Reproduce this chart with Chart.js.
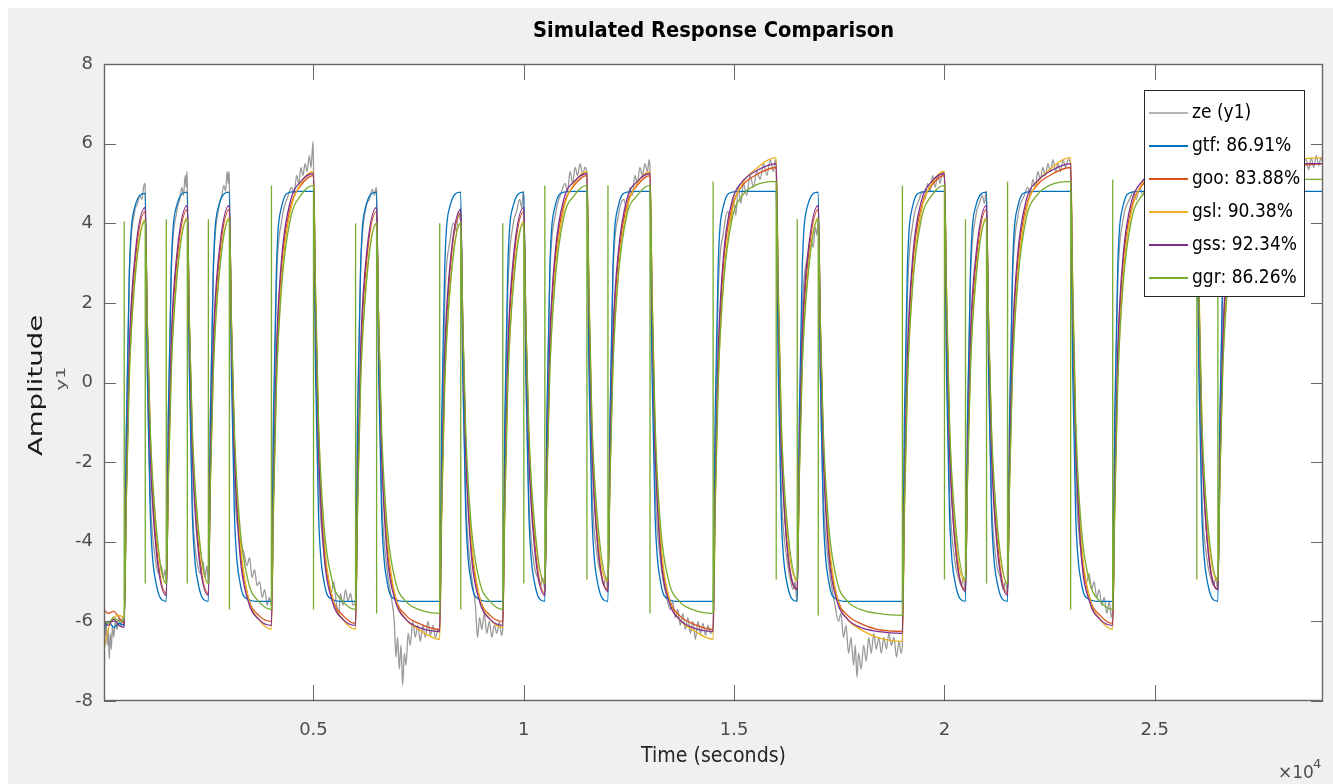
<!DOCTYPE html>
<html>
<head>
<meta charset="UTF-8" />
<title>Simulated Response Comparison</title>
<script src="https://cdn.jsdelivr.net/npm/chart.js"></script>
<style>
  body { margin: 0; background: #f0f0f0; }
  canvas { display: block; }
</style>
</head>
<body>
<canvas id="grafico" width="1333" height="784"></canvas>
<script>
  // sample times (s) shared by the five model curves, one line per input segment
  const t = [
    20, 120, 250, 380,
    500, 550, 620, 750,
    1000, 1050, 1120, 1250,
    1500, 1550, 1620, 1750,
    2000, 2050, 2120, 2250,
    2500, 2550, 2620, 2750,
    3000, 3050, 3120, 3250, 3450, 3700,
    4000, 4050, 4120, 4250, 4450, 4700,
    5000, 5050, 5120, 5250, 5450, 5700,
    6000, 6050, 6120, 6250,
    6500, 6550, 6620, 6750, 6950, 7200, 7500,
    8000, 8050, 8120, 8250,
    8500, 8550, 8620, 8750, 8950, 9200,
    9500, 9550, 9620, 9750,
    10000, 10050, 10120, 10250,
    10500, 10550, 10620, 10750, 10950, 11200,
    11500, 11550, 11620, 11750,
    12000, 12050, 12120, 12250, 12450, 12700,
    13000, 13050, 13120, 13250, 13450, 13700, 14000,
    14500, 14550, 14620, 14750, 14950, 15200, 15500,
    16000, 16050, 16120, 16250,
    16500, 16550, 16620, 16750,
    17000, 17050, 17120, 17250, 17450, 17700, 18000, 18400,
    19000, 19050, 19120, 19250, 19450, 19700,
    20000, 20050, 20120, 20250,
    20500, 20550, 20620, 20750,
    21000, 21050, 21120, 21250,
    21500, 21550, 21620, 21750, 21950, 22200, 22500,
    23000, 23050, 23120, 23250, 23450, 23700,
    24000, 24050, 24120, 24250, 24450, 24700, 25000, 25400,
    26000, 26050, 26120, 26250,
    26500, 26550, 26620, 26750, 26950, 27200, 27500, 27900, 28500, 29000
  ];

  const gtf = [
    -6.2, -6.0, -6.15, -6.05,
    -6.1, -1.2, 2.7, 4.4,
    4.75, 0.2, -3.3, -5.0,
    -5.5, -0.8, 2.9, 4.45,
    4.78, 0.2, -3.3, -5.0,
    -5.5, -0.8, 2.9, 4.45,
    4.78, 0.2, -3.3, -5.0, -5.45, -5.5,
    -5.5, -0.8, 2.9, 4.45, 4.78, 4.8,
    4.8, 0.2, -3.3, -5.0, -5.45, -5.5,
    -5.5, -0.8, 2.9, 4.45,
    4.78, 0.2, -3.3, -5.0, -5.45, -5.5, -5.5,
    -5.5, -0.8, 2.9, 4.45,
    4.78, 0.2, -3.3, -5.0, -5.45, -5.5,
    -5.5, -0.8, 2.9, 4.45,
    4.78, 0.2, -3.3, -5.0,
    -5.5, -0.8, 2.9, 4.45, 4.78, 4.8,
    4.8, 0.2, -3.3, -5.0,
    -5.5, -0.8, 2.9, 4.45, 4.78, 4.8,
    4.8, 0.2, -3.3, -5.0, -5.45, -5.5, -5.5,
    -5.5, -0.8, 2.9, 4.45, 4.78, 4.8, 4.8,
    4.8, 0.2, -3.3, -5.0,
    -5.5, -0.8, 2.9, 4.45,
    4.78, 0.2, -3.3, -5.0, -5.45, -5.5, -5.5, -5.5,
    -5.5, -0.8, 2.9, 4.45, 4.78, 4.8,
    4.8, 0.2, -3.3, -5.0,
    -5.5, -0.8, 2.9, 4.45,
    4.78, 0.2, -3.3, -5.0,
    -5.5, -0.8, 2.9, 4.45, 4.78, 4.8, 4.8,
    4.8, 0.2, -3.3, -5.0, -5.45, -5.5,
    -5.5, -0.8, 2.9, 4.45, 4.78, 4.8, 4.8, 4.8,
    4.8, 0.2, -3.3, -5.0,
    -5.5, -0.8, 2.9, 4.45, 4.78, 4.8, 4.8, 4.8, 4.8, 4.8
  ];

  const goo = [
    -5.7, -5.8, -5.75, -5.9,
    -6.05, -2.8, 0.5, 2.9,
    4.3, 1.5, -1.5, -3.9,
    -5.3, -2.3, 0.8, 3.0,
    4.35, 1.5, -1.5, -3.9,
    -5.3, -2.3, 0.8, 3.0,
    4.35, 1.5, -1.6, -4.1, -5.4, -5.85,
    -6.0, -2.8, 0.5, 3.0, 4.4, 4.95,
    5.2, 2.0, -1.4, -4.1, -5.4, -5.85,
    -6.05, -2.8, 0.5, 2.9,
    4.3, 1.5, -1.6, -4.1, -5.4, -5.85, -6.05,
    -6.2, -2.9, 0.4, 2.85,
    4.25, 1.5, -1.6, -4.1, -5.4, -5.85,
    -6.0, -2.8, 0.5, 2.9,
    4.3, 1.5, -1.5, -3.9,
    -5.3, -2.3, 0.8, 3.1, 4.45, 4.95,
    5.2, 2.0, -1.4, -4.0,
    -5.2, -2.2, 0.9, 3.1, 4.45, 4.95,
    5.2, 2.0, -1.4, -4.1, -5.4, -5.85, -6.05,
    -6.2, -2.9, 0.4, 3.0, 4.4, 4.95, 5.2,
    5.4, 2.1, -1.3, -4.0,
    -5.2, -2.2, 0.9, 3.0,
    4.35, 1.5, -1.6, -4.1, -5.4, -5.85, -6.05, -6.2,
    -6.25, -2.9, 0.4, 3.0, 4.4, 4.95,
    5.2, 2.0, -1.4, -4.0,
    -5.2, -2.2, 0.9, 3.0,
    4.35, 1.5, -1.5, -3.9,
    -5.3, -2.3, 0.8, 3.1, 4.45, 4.95, 5.2,
    5.4, 2.1, -1.3, -4.1, -5.4, -5.85,
    -6.05, -2.8, 0.5, 3.0, 4.4, 4.95, 5.2, 5.35,
    5.4, 2.1, -1.3, -4.0,
    -5.2, -2.2, 0.9, 3.1, 4.45, 4.95, 5.2, 5.35, 5.45, 5.5
  ];

  const gsl = [
    -6.7, -6.2, -5.9, -5.85,
    -5.9, -3.0, 0.1, 2.6,
    4.1, 1.5, -1.3, -3.6,
    -5.05, -2.4, 0.4, 2.7,
    4.15, 1.5, -1.3, -3.6,
    -5.05, -2.4, 0.4, 2.7,
    4.15, 1.5, -1.4, -3.9, -5.4, -5.95,
    -6.2, -3.2, 0.0, 2.7, 4.3, 5.0,
    5.3, 2.4, -1.0, -3.9, -5.4, -5.95,
    -6.2, -3.2, 0.0, 2.5,
    4.0, 1.4, -1.5, -3.9, -5.4, -5.95, -6.2,
    -6.45, -3.3, -0.1, 2.4,
    4.0, 1.4, -1.5, -3.9, -5.4, -5.95,
    -6.15, -3.2, 0.0, 2.5,
    4.05, 1.5, -1.3, -3.6,
    -5.05, -2.4, 0.4, 2.8, 4.35, 5.0,
    5.3, 2.4, -1.0, -3.7,
    -5.0, -2.3, 0.5, 2.8, 4.35, 5.0,
    5.3, 2.4, -1.0, -3.9, -5.4, -5.95, -6.2,
    -6.45, -3.3, -0.1, 2.6, 4.3, 5.0, 5.35,
    5.65, 2.6, -0.9, -3.6,
    -5.0, -2.3, 0.5, 2.7,
    4.15, 1.5, -1.4, -3.9, -5.4, -5.95, -6.2, -6.4,
    -6.5, -3.3, -0.1, 2.6, 4.3, 5.0,
    5.3, 2.4, -1.0, -3.7,
    -5.0, -2.3, 0.5, 2.7,
    4.15, 1.5, -1.3, -3.6,
    -5.05, -2.4, 0.4, 2.8, 4.35, 5.0, 5.35,
    5.65, 2.6, -0.9, -3.9, -5.4, -5.95,
    -6.2, -3.2, 0.0, 2.7, 4.3, 5.0, 5.35, 5.55,
    5.6, 2.6, -0.9, -3.6,
    -5.0, -2.3, 0.5, 2.8, 4.35, 5.0, 5.35, 5.55, 5.62, 5.65
  ];

  const gss = [
    -6.0, -6.1, -5.95, -6.1,
    -6.15, -2.6, 0.8, 3.1,
    4.4, 1.3, -1.8, -4.1,
    -5.35, -2.0, 1.1, 3.2,
    4.45, 1.3, -1.8, -4.1,
    -5.35, -2.0, 1.1, 3.2,
    4.45, 1.3, -1.8, -4.3, -5.5, -5.95,
    -6.1, -2.6, 0.8, 3.2, 4.55, 5.05,
    5.25, 1.8, -1.6, -4.3, -5.5, -5.95,
    -6.1, -2.6, 0.8, 3.1,
    4.4, 1.3, -1.8, -4.3, -5.5, -5.95, -6.15,
    -6.25, -2.7, 0.7, 3.0,
    4.35, 1.3, -1.8, -4.3, -5.5, -5.95,
    -6.1, -2.6, 0.8, 3.1,
    4.4, 1.3, -1.8, -4.1,
    -5.35, -2.0, 1.1, 3.3, 4.6, 5.05,
    5.25, 1.8, -1.6, -4.0,
    -5.25, -1.9, 1.2, 3.3, 4.6, 5.05,
    5.25, 1.8, -1.6, -4.3, -5.5, -5.95, -6.15,
    -6.25, -2.7, 0.7, 3.2, 4.55, 5.05, 5.3,
    5.5, 2.0, -1.5, -4.0,
    -5.2, -1.9, 1.2, 3.2,
    4.45, 1.3, -1.8, -4.3, -5.5, -5.95, -6.15, -6.25,
    -6.3, -2.7, 0.7, 3.2, 4.55, 5.05,
    5.25, 1.8, -1.6, -4.0,
    -5.25, -1.9, 1.2, 3.2,
    4.45, 1.3, -1.8, -4.1,
    -5.35, -2.0, 1.1, 3.3, 4.6, 5.05, 5.3,
    5.5, 2.0, -1.5, -4.3, -5.5, -5.95,
    -6.1, -2.6, 0.8, 3.2, 4.55, 5.05, 5.3, 5.45,
    5.5, 2.0, -1.5, -4.0,
    -5.2, -1.9, 1.2, 3.3, 4.6, 5.05, 5.3, 5.45, 5.5, 5.5
  ];

  const ggr = [
    -6.0, -6.05, -5.9, -6.0,
    -5.95, -3.0, 0.1, 2.5,
    4.05, 1.5, -1.2, -3.5,
    -5.05, -2.5, 0.3, 2.6,
    4.1, 1.5, -1.2, -3.5,
    -5.05, -2.5, 0.3, 2.6,
    4.1, 1.5, -1.2, -3.6, -5.0, -5.5,
    -5.7, -3.0, 0.0, 2.5, 4.1, 4.7,
    4.95, 2.2, -1.0, -3.6, -5.0, -5.5,
    -5.7, -3.0, 0.0, 2.4,
    4.0, 1.5, -1.2, -3.6, -5.0, -5.5, -5.7,
    -5.8, -3.0, 0.0, 2.4,
    4.0, 1.5, -1.2, -3.6, -5.0, -5.5,
    -5.7, -3.0, 0.0, 2.4,
    4.0, 1.5, -1.2, -3.5,
    -5.05, -2.5, 0.3, 2.6, 4.15, 4.7,
    4.95, 2.2, -1.0, -3.4,
    -4.95, -2.4, 0.4, 2.7, 4.2, 4.7,
    4.95, 2.2, -1.0, -3.6, -5.0, -5.5, -5.7,
    -5.8, -3.0, 0.0, 2.5, 4.1, 4.7, 4.95,
    5.05, 2.2, -1.0, -3.4,
    -4.95, -2.4, 0.4, 2.6,
    4.1, 1.5, -1.2, -3.6, -5.0, -5.5, -5.7, -5.8,
    -5.85, -3.0, 0.0, 2.5, 4.1, 4.7,
    4.95, 2.2, -1.0, -3.4,
    -4.95, -2.4, 0.4, 2.6,
    4.1, 1.5, -1.2, -3.5,
    -5.05, -2.5, 0.3, 2.6, 4.15, 4.7, 4.95,
    5.05, 2.2, -1.0, -3.6, -5.0, -5.5,
    -5.7, -3.0, 0.0, 2.5, 4.1, 4.7, 4.95, 5.05,
    5.1, 2.2, -1.0, -3.4,
    -4.95, -2.4, 0.4, 2.6, 4.15, 4.7, 4.95, 5.05, 5.1, 5.1
  ];

  // input switching instants and the one-sample jump of ggr at each of them
  const switchT = [500, 1000, 1500, 2000, 2500, 3000, 4000, 5000, 6000, 6500, 8000, 8500,
    9500, 10000, 10500, 11500, 12000, 13000, 14500, 16000, 16500, 17000, 19000, 20000,
    20500, 21000, 21500, 23000, 24000, 26000, 26500];
  const ggrSpike = [4.05, -5.05, 4.1, -5.05, 4.1, -5.7, 4.95, -5.7, 4.0, -5.8, 4.0, -5.7,
    4.0, -5.05, 4.95, -4.95, 4.95, -5.8, 5.05, -4.95, 4.1, -5.85, 4.95, -4.95,
    4.1, -5.05, 5.05, -5.7, 5.1, -4.95, 5.1];

  // measured output ze (y1): [time, value]
  const zeSamples = [
    [20,-5.9],[45,-6.4],[70,-6.0],[95,-6.6],[120,-6.2],[145,-6.95],[170,-6.3],[195,-6.7],[220,-6.1],[250,-6.4],[290,-6.0],[330,-6.2],[370,-5.9],[420,-6.1],[470,-5.9],
    [500,-6.1],[550,-1.5],[620,2.6],[750,4.3],[820,4.5],[870,4.7],[920,4.6],[960,4.9],[990,5.0],
    [1000,4.9],[1050,0.5],[1120,-2.8],[1250,-4.5],[1320,-4.8],[1380,-4.6],[1430,-4.9],[1470,-4.7],
    [1500,-5.0],[1550,-0.8],[1620,2.8],[1750,4.3],[1820,4.6],[1870,4.9],[1910,4.7],[1950,5.2],[1975,4.9],[1992,5.3],
    [2000,5.0],[2050,0.5],[2120,-3.0],[2250,-4.6],[2320,-4.8],[2380,-4.5],[2420,-4.9],[2470,-4.6],
    [2500,-5.0],[2550,-0.8],[2620,2.8],[2750,4.4],[2820,4.7],[2870,4.95],[2910,4.8],[2950,5.3],[2975,5.0],[2992,5.3],
    [3000,5.1],[3050,0.8],[3120,-2.5],[3250,-3.9],[3350,-4.3],[3420,-4.6],[3480,-4.4],[3540,-4.9],[3600,-4.7],[3660,-5.1],[3720,-5.0],[3780,-5.4],[3840,-5.2],[3900,-5.6],[3950,-5.4],
    [4000,-5.6],[4050,-1.2],[4120,2.5],[4250,4.1],[4400,4.7],[4480,4.9],[4540,4.75],[4600,5.2],[4650,5.0],[4700,5.4],[4750,5.2],[4800,5.5],[4850,5.3],[4900,5.7],[4940,5.4],[4970,5.8],[4990,6.05],
    [5000,5.5],[5050,1.0],[5120,-2.3],[5250,-4.3],[5350,-4.9],[5420,-5.3],[5480,-5.0],[5540,-5.5],[5600,-5.85],[5640,-5.3],[5700,-5.6],[5760,-5.2],[5820,-5.5],[5880,-5.3],[5940,-5.6],
    [6000,-5.5],[6050,-0.8],[6120,2.8],[6250,4.4],[6330,4.6],[6400,4.85],[6450,4.7],[6490,4.9],
    [6500,4.8],[6550,0.5],[6620,-2.8],[6750,-4.7],[6850,-5.4],[6920,-6.0],[6960,-6.9],[7000,-6.4],[7040,-7.2],[7080,-6.6],[7120,-7.6],[7160,-6.8],[7200,-7.1],[7250,-6.3],[7300,-6.6],[7360,-6.0],[7420,-6.4],[7480,-6.1],[7540,-6.5],[7600,-6.1],[7660,-6.4],[7720,-6.0],[7780,-6.35],[7840,-6.1],[7900,-6.4],[7960,-6.2],
    [8000,-6.3],[8050,-1.8],[8120,2.0],[8250,3.6],[8330,4.0],[8400,3.8],[8450,4.3],[8490,4.1],
    [8500,4.4],[8550,0.3],[8620,-2.9],[8750,-4.8],[8850,-5.6],[8900,-6.4],[8950,-5.9],[9000,-6.2],[9060,-5.8],[9120,-6.3],[9180,-6.0],[9240,-6.4],[9300,-6.1],[9360,-6.3],[9420,-6.0],[9470,-6.35],
    [9500,-6.2],[9550,-1.5],[9620,2.3],[9750,4.0],[9830,4.3],[9900,4.6],[9950,4.4],[9990,4.8],
    [10000,4.6],[10050,0.3],[10120,-2.9],[10250,-4.6],[10330,-4.9],[10400,-5.1],[10450,-4.9],
    [10500,-5.2],[10550,-1.0],[10620,2.7],[10750,4.2],[10900,4.8],[10980,5.0],[11040,4.8],[11100,5.3],[11160,5.0],[11220,5.4],[11280,5.2],[11340,5.5],[11400,5.2],[11450,5.4],
    [11500,5.3],[11550,1.0],[11620,-2.6],[11750,-4.4],[11830,-4.8],[11900,-5.1],[11950,-4.9],
    [12000,-5.2],[12050,-1.0],[12120,2.7],[12250,4.2],[12380,4.6],[12450,4.3],[12520,4.9],[12580,4.7],[12640,5.2],[12700,5.0],[12760,5.4],[12820,5.2],[12880,5.5],[12940,5.3],[12980,5.6],
    [13000,5.4],[13050,1.0],[13120,-2.5],[13250,-4.5],[13400,-5.4],[13480,-5.7],[13540,-5.5],[13600,-5.9],[13660,-5.7],[13720,-6.1],[13780,-5.8],[13840,-6.2],[13900,-5.9],[13960,-6.3],[14020,-6.0],[14080,-6.45],[14140,-6.0],[14200,-6.3],[14260,-6.05],[14320,-6.35],[14380,-6.1],[14440,-6.3],
    [14500,-6.2],[14550,-1.8],[14620,2.2],[14750,3.8],[14850,4.3],[14920,4.0],[14980,4.6],[15040,4.2],[15100,4.9],[15160,4.5],[15220,5.0],[15300,4.7],[15380,5.2],[15460,4.9],[15540,5.3],[15620,5.1],[15700,5.5],[15780,5.2],[15860,5.6],[15930,5.3],[15980,5.6],
    [16000,5.4],[16050,1.0],[16120,-2.6],[16250,-4.4],[16330,-4.9],[16400,-5.2],[16450,-5.0],[16490,-5.5],
    [16500,-5.3],[16550,-1.5],[16620,1.8],[16750,3.2],[16820,3.6],[16880,3.4],[16930,3.9],[16970,3.7],
    [17000,4.1],[17050,0.2],[17120,-2.8],[17250,-4.6],[17400,-5.6],[17480,-6.0],[17540,-5.8],[17600,-6.4],[17660,-6.1],[17720,-6.8],[17780,-6.4],[17840,-7.1],[17880,-6.6],[17920,-7.4],[17960,-6.8],[18020,-7.2],[18080,-6.6],[18140,-7.0],[18200,-6.4],[18260,-6.8],[18320,-6.3],[18380,-6.7],[18440,-6.4],[18500,-6.8],[18560,-6.4],[18620,-6.7],[18680,-6.3],[18740,-6.6],[18800,-6.4],[18860,-6.9],[18920,-6.5],[18970,-6.8],
    [19000,-6.6],[19050,-1.8],[19120,2.2],[19250,4.0],[19400,4.6],[19480,4.8],[19540,4.6],[19600,5.0],[19660,4.8],[19720,5.2],[19780,4.9],[19840,5.2],[19900,5.0],[19950,5.3],
    [20000,5.1],[20050,0.8],[20120,-2.7],[20250,-4.5],[20330,-4.9],[20400,-5.1],[20450,-4.9],
    [20500,-5.3],[20550,-1.0],[20620,2.6],[20750,4.2],[20830,4.5],[20900,4.7],[20950,4.5],[20990,4.8],
    [21000,4.7],[21050,0.4],[21120,-2.9],[21250,-4.6],[21330,-4.9],[21400,-5.2],[21450,-5.0],
    [21500,-5.3],[21550,-1.0],[21620,2.6],[21750,4.2],[21900,4.7],[21980,4.9],[22040,4.7],[22100,5.1],[22160,4.9],[22220,5.3],[22280,5.1],[22340,5.4],[22400,5.2],[22460,5.5],[22520,5.3],[22580,5.6],[22640,5.3],[22700,5.5],[22760,5.3],[22820,5.6],[22880,5.4],[22940,5.6],
    [23000,5.5],[23050,1.2],[23120,-2.3],[23250,-4.3],[23380,-5.0],[23440,-4.8],[23500,-5.2],[23560,-5.0],[23620,-5.4],[23680,-5.2],[23740,-5.6],[23800,-5.4],[23860,-5.8],[23920,-5.5],[23970,-5.9],
    [24000,-5.7],[24050,-1.2],[24120,2.5],[24250,4.1],[24400,4.6],[24500,4.8],[24560,4.6],[24640,4.9],[24720,4.7],[24800,5.0],[25000,4.8],[25200,5.0],[25400,4.9],[25600,5.1],[25800,4.9],[25950,5.1],
    [26000,5.0],[26050,0.6],[26120,-2.8],[26250,-4.5],[26330,-4.9],[26400,-5.1],[26450,-4.9],
    [26500,-5.2],[26550,-1.0],[26620,2.6],[26750,4.2],[26950,4.8],[27200,5.1],[27400,5.3],[27600,5.2],[27800,5.4],[28000,5.3],[28200,5.5],[28400,5.4],[28600,5.6],[28660,5.35],[28720,5.65],[28780,5.4],[28840,5.7],[28900,5.45],[28950,5.65],[29000,5.5]
  ];

  const xTicks = [5000, 10000, 15000, 20000, 25000];
  const rotulos = ['ze (y1)', 'gtf: 86.91%', 'goo: 83.88%', 'gsl: 90.38%', 'gss: 92.34%', 'ggr: 86.26%'];
  const cores = ['#9a9a9a', '#0072BD', '#D95319', '#EDB120', '#7E2F8E', '#77AC30'];

  [gtf, goo, gsl, gss, ggr].forEach((s, i) => {
    if (s.length !== t.length) throw new Error('serie ' + i + ': ' + s.length + ' != ' + t.length);
  });
  if (ggrSpike.length !== switchT.length) throw new Error('ggrSpike length');

  const pontos = s => t.map((x, i) => ({ x: x, y: s[i] }));

  const ggrPts = [];
  t.forEach((x, i) => {
    const k = switchT.indexOf(x);
    if (k >= 0) {
      ggrPts.push({ x: x, y: ggr[i] }, { x: x + 1, y: ggrSpike[k] }, { x: x + 2, y: ggr[i] });
    } else {
      ggrPts.push({ x: x, y: ggr[i] });
    }
  });

  const FONTE = '"DejaVu Sans", "Liberation Sans", sans-serif';

  function texto(ctx, s, x, y, size, color, align, o = {}) {
    ctx.save();
    ctx.translate(x, y);
    if (o.rotate) ctx.rotate(o.rotate);
    ctx.scale(o.sx || 1, o.sy || 1);
    ctx.font = (o.bold ? 'bold ' : '') + size + 'px ' + FONTE;
    ctx.fillStyle = color;
    ctx.textAlign = align;
    ctx.textBaseline = o.baseline || 'middle';
    ctx.fillText(s, 0, 0);
    ctx.restore();
  }

  const moldura = {
    id: 'moldura',
    beforeDraw(chart) {
      const { ctx, chartArea: a, width, height } = chart;
      ctx.save();
      ctx.fillStyle = '#ffffff';
      ctx.fillRect(0, 0, width, height);
      ctx.fillStyle = '#f0f0f0';
      ctx.fillRect(8, 8, width - 8, height - 8);
      ctx.fillStyle = '#ffffff';
      ctx.fillRect(a.left, a.top, a.width, a.height);
      ctx.restore();
    },
    afterDatasetsDraw(chart) {
      const { ctx, chartArea: a, scales: { x, y } } = chart;
      ctx.save();
      ctx.strokeStyle = '#666666';
      ctx.lineWidth = 1;
      ctx.beginPath();
      x.ticks.forEach(tk => {
        const px = Math.round(x.getPixelForValue(tk.value)) + 0.5;
        ctx.moveTo(px, a.bottom); ctx.lineTo(px, a.bottom - 16);
        ctx.moveTo(px, a.top); ctx.lineTo(px, a.top + 16);
      });
      y.ticks.forEach(tk => {
        const py = Math.round(y.getPixelForValue(tk.value)) + 0.5;
        ctx.moveTo(a.left, py); ctx.lineTo(a.left + 12, py);
        ctx.moveTo(a.right, py); ctx.lineTo(a.right - 12, py);
      });
      ctx.stroke();
      ctx.lineWidth = 1.4;
      ctx.strokeRect(a.left + 0.5, a.top + 0.5, a.width - 1, a.height - 1);
      ctx.restore();

      x.ticks.forEach(tk => {
        texto(ctx, String(tk.value / 10000), x.getPixelForValue(tk.value), a.bottom + 29, 18, '#4d4d4d', 'center');
      });
      y.ticks.forEach(tk => {
        texto(ctx, String(tk.value), a.left - 11, y.getPixelForValue(tk.value), 18, '#4d4d4d', 'right');
      });

      const cx = (a.left + a.right) / 2;
      const cy = (a.top + a.bottom) / 2;
      texto(ctx, 'Simulated Response Comparison', cx, 32, 19.5, '#000000', 'center', { bold: true, sy: 1.08 });
      texto(ctx, 'Time (seconds)', cx, 757, 19, '#262626', 'center', { sy: 1.08 });
      texto(ctx, 'Amplitude', 37, cy + 3, 19, '#1a1a1a', 'center', { rotate: -Math.PI / 2, sx: 1.45 });
      texto(ctx, 'y1', 62, cy - 4, 13, '#555555', 'center', { rotate: -Math.PI / 2, sx: 1.5 });
      texto(ctx, '\u00d710', 1278, 778, 17, '#4d4d4d', 'left', { baseline: 'alphabetic' });
      texto(ctx, '4', 1313, 768, 13, '#4d4d4d', 'left', { baseline: 'alphabetic' });
    },
    afterDraw(chart) {
      const { ctx } = chart;
      ctx.save();
      ctx.fillStyle = '#ffffff';
      ctx.fillRect(1144, 90, 161, 207);
      ctx.strokeStyle = '#262626';
      ctx.lineWidth = 1;
      ctx.strokeRect(1144.5, 90.5, 160, 206);
      chart.data.datasets.forEach((ds, i) => {
        const yy = 113 + i * 33;
        ctx.strokeStyle = ds.borderColor;
        ctx.lineWidth = i === 0 ? 1.3 : 2.2;
        ctx.beginPath();
        ctx.moveTo(1149, yy);
        ctx.lineTo(1188, yy);
        ctx.stroke();
      });
      ctx.restore();
      chart.data.datasets.forEach((ds, i) => {
        texto(ctx, ds.label, 1192, 113 + i * 33, 19, '#000000', 'left', { sx: 0.9 });
      });
    }
  };

  const linha = (label, data, cor, ordem) => ({
    label: label,
    data: data,
    borderColor: cor,
    borderWidth: 1.3,
    pointRadius: 0,
    fill: false,
    cubicInterpolationMode: 'monotone',
    order: ordem
  });

  new Chart(document.getElementById('grafico').getContext('2d'), {
    type: 'line',
    data: {
      datasets: [
        linha(rotulos[0], zeSamples.map(p => ({ x: p[0], y: p[1] })), cores[0], 6),
        linha(rotulos[1], pontos(gtf), cores[1], 5),
        linha(rotulos[2], pontos(goo), cores[2], 4),
        linha(rotulos[3], pontos(gsl), cores[3], 3),
        linha(rotulos[4], pontos(gss), cores[4], 2),
        linha(rotulos[5], ggrPts, cores[5], 1)
      ]
    },
    options: {
      responsive: false,
      animation: false,
      layout: { padding: { left: 104, top: 64, right: 10, bottom: 83 } },
      plugins: {
        legend: { display: false },
        title: { display: false },
        tooltip: { enabled: false }
      },
      scales: {
        x: {
          type: 'linear',
          min: 20,
          max: 29000,
          grid: { display: false, drawTicks: false },
          border: { display: false },
          ticks: { display: false },
          afterBuildTicks: s => { s.ticks = xTicks.map(v => ({ value: v })); }
        },
        y: {
          min: -8,
          max: 8,
          grid: { display: false, drawTicks: false },
          border: { display: false },
          ticks: { display: false, stepSize: 2 }
        }
      }
    },
    plugins: [moldura]
  });
</script>
</body>
</html>
